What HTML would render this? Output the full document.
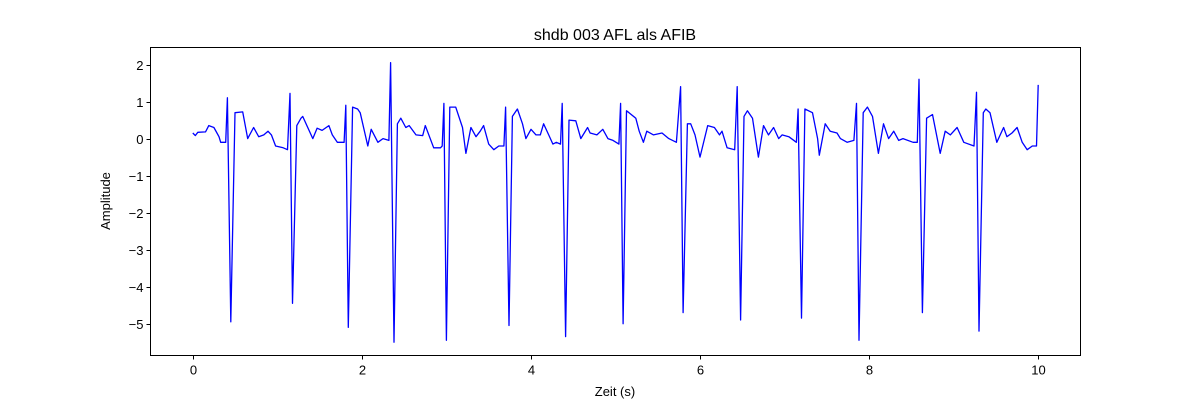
<!DOCTYPE html>
<html><head><meta charset="utf-8"><style>
body{margin:0;background:#fff;}
svg{font-family:"Liberation Sans","DejaVu Sans",sans-serif;}
</style></head><body>
<svg id="chart" width="1200" height="400" xmlns="http://www.w3.org/2000/svg">
<rect x="0" y="0" width="1200" height="400" fill="#fff"/>
<text x="615" y="40" font-size="16" text-anchor="middle">shdb 003 AFL als AFIB</text>
<text x="615" y="396" font-size="13" text-anchor="middle">Zeit (s)</text>
<text x="110" y="201" font-size="13" text-anchor="middle" transform="rotate(-90 110 201)">Amplitude</text>
<g id="ticks"></g>
<polyline id="sig" fill="none" stroke="#0000ff" stroke-width="1.3" stroke-linejoin="round"/>
<rect x="150.5" y="47.5" width="930" height="308" fill="none" stroke="#000" stroke-width="1"/>
</svg>
<script>
const xTicks=[0,2,4,6,8,10];
const yTicks=[-5,-4,-3,-2,-1,0,1,2];
const times=[0,0.03,0.06,0.15,0.19,0.25,0.31,0.33,0.39,0.41,0.45,0.5,0.59,0.65,0.72,0.78,0.84,0.89,0.93,0.98,1.07,1.12,1.15,1.18,1.23,1.28,1.3,1.42,1.47,1.53,1.61,1.65,1.71,1.79,1.81,1.84,1.89,1.95,1.98,2.07,2.11,2.19,2.25,2.32,2.34,2.38,2.42,2.46,2.52,2.56,2.64,2.72,2.75,2.85,2.93,2.95,2.97,3.0,3.04,3.11,3.19,3.23,3.29,3.35,3.4,3.44,3.5,3.56,3.62,3.68,3.7,3.74,3.78,3.84,3.9,3.94,4.0,4.06,4.11,4.15,4.21,4.26,4.3,4.35,4.37,4.41,4.45,4.53,4.59,4.67,4.7,4.78,4.85,4.91,4.97,5.04,5.06,5.09,5.13,5.16,5.24,5.28,5.33,5.37,5.45,5.55,5.63,5.72,5.77,5.8,5.85,5.89,5.94,6.0,6.09,6.17,6.23,6.26,6.32,6.41,6.44,6.48,6.52,6.56,6.62,6.69,6.75,6.81,6.87,6.93,6.97,7.05,7.14,7.16,7.2,7.24,7.33,7.39,7.41,7.48,7.54,7.62,7.66,7.74,7.82,7.85,7.88,7.93,7.98,8.04,8.11,8.17,8.23,8.29,8.35,8.4,8.52,8.57,8.59,8.63,8.68,8.75,8.84,8.9,8.96,9.04,9.12,9.24,9.27,9.3,9.35,9.38,9.43,9.51,9.59,9.63,9.69,9.75,9.81,9.87,9.93,9.98,10.0];
const amps=[0.15,0.08,0.17,0.18,0.35,0.3,0.05,-0.1,-0.1,1.1,-4.95,0.7,0.72,0.0,0.3,0.05,0.1,0.2,0.1,-0.2,-0.25,-0.3,1.22,-4.45,0.35,0.55,0.6,0.0,0.28,0.22,0.35,0.1,-0.1,-0.1,0.9,-5.1,0.85,0.8,0.7,-0.2,0.25,-0.1,0.0,-0.05,2.05,-5.5,0.4,0.55,0.3,0.35,0.1,0.08,0.35,-0.25,-0.25,-0.2,0.95,-5.45,0.85,0.85,0.3,-0.4,0.3,0.05,0.2,0.35,-0.15,-0.3,-0.2,-0.2,0.85,-5.05,0.6,0.8,0.4,0.0,0.25,0.1,0.1,0.4,0.1,-0.15,-0.1,-0.15,0.95,-5.35,0.5,0.48,0.0,0.3,0.15,0.1,0.25,0.0,-0.05,-0.15,0.95,-5.0,0.75,0.7,0.55,0.2,-0.1,0.2,0.1,0.15,0.0,-0.1,1.4,-4.7,0.4,0.4,0.1,-0.5,0.35,0.3,0.1,0.2,-0.25,-0.3,1.4,-4.9,0.6,0.75,0.55,-0.5,0.35,0.1,0.3,0.0,0.1,0.05,-0.1,0.8,-4.85,0.8,0.7,0.0,-0.45,0.4,0.2,0.15,0.0,-0.1,-0.05,0.95,-5.45,0.7,0.85,0.6,-0.4,0.4,0.0,0.2,-0.05,0.0,-0.1,-0.1,1.6,-4.7,0.55,0.65,-0.4,0.2,0.1,0.3,-0.1,-0.2,1.25,-5.2,0.7,0.8,0.7,-0.1,0.3,0.05,0.15,0.3,-0.1,-0.3,-0.2,-0.2,1.45];
const X0=150.5,X1=1080.5,Y0=355.5,Y1=47.5;
const xmin=-0.5,xmax=10.5,ymin=-5.86,ymax=2.46;
function sx(t){return X0+(t-xmin)/(xmax-xmin)*(X1-X0);}
function sy(v){return Y0-(v-ymin)/(ymax-ymin)*(Y0-Y1);}
const NS='http://www.w3.org/2000/svg';
const g=document.getElementById('ticks');
function mk(tag,attrs){const e=document.createElementNS(NS,tag);for(const k in attrs)e.setAttribute(k,attrs[k]);return e;}
xTicks.forEach(t=>{
  const x=Math.round(sx(t))+0.5;
  const l=mk('line',{x1:x,x2:x,y1:Y0,y2:Y0+4,stroke:'#000'});
  
  
  g.appendChild(l);
  const tx=mk('text',{x:x,y:Y0+19,'font-size':13,'text-anchor':'middle'});
  
  
  tx.textContent=String(t);
  g.appendChild(tx);
});
yTicks.forEach(v=>{
  const y=Math.round(sy(v))+0.5;
  const l=mk('line',{x1:X0-4,x2:X0,y1:y,y2:y,stroke:'#000'});
  
  
  g.appendChild(l);
  const tx=mk('text',{x:X0-7,y:y+4.5,'font-size':13,'text-anchor':'end'});
  
  
  tx.textContent=v<0?'\u2212'+Math.abs(v):String(v);
  g.appendChild(tx);
});
const n=Math.min(times.length,amps.length);
const pts=[];
for(let i=0;i<n;i++)pts.push(sx(times[i]).toFixed(1)+','+sy(amps[i]).toFixed(1));
document.getElementById('sig').setAttribute('points',pts.join(' '));
</script>
</body></html>
